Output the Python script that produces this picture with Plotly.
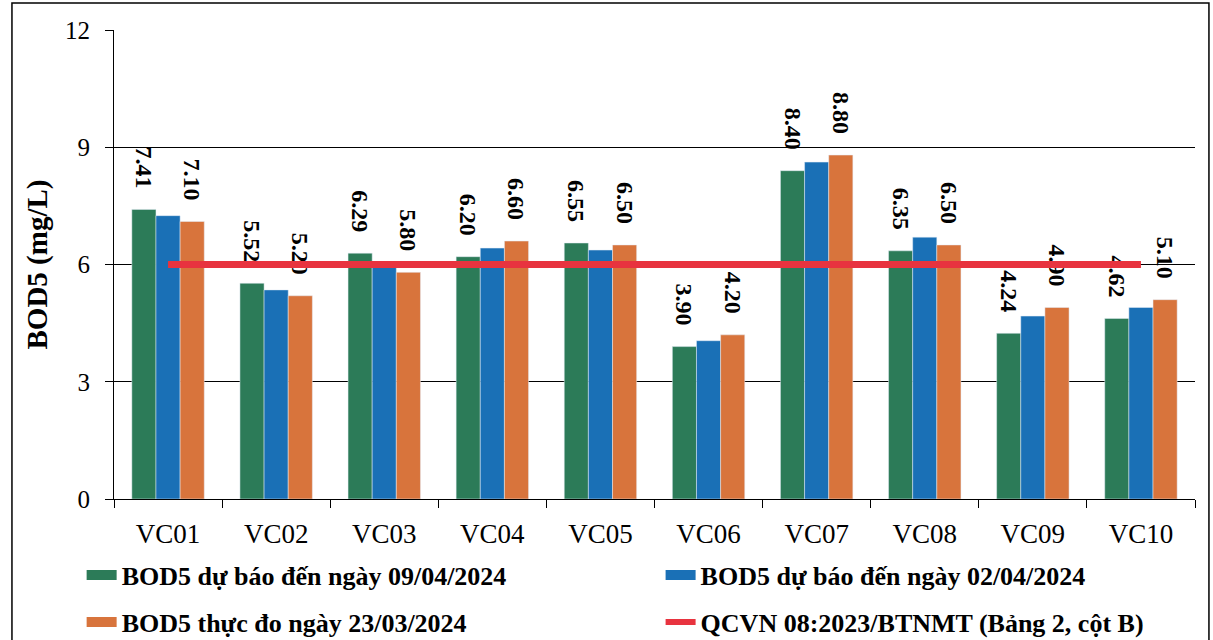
import plotly.graph_objects as go

categories = ["VC01", "VC02", "VC03", "VC04", "VC05", "VC06", "VC07", "VC08", "VC09", "VC10"]
bod_0904 = [7.41, 5.52, 6.29, 6.20, 6.55, 3.90, 8.40, 6.35, 4.24, 4.62]
bod_0204 = [7.25, 5.35, 5.95, 6.42, 6.37, 4.05, 8.62, 6.70, 4.68, 4.90]
bod_2303 = [7.10, 5.20, 5.80, 6.60, 6.50, 4.20, 8.80, 6.50, 4.90, 5.10]
qcvn_limit = [6.0] * len(categories)
y_ticks = [0, 3, 6, 9, 12]

names = [
    "BOD5 dự báo đến ngày 09/04/2024",
    "BOD5 dự báo đến ngày 02/04/2024",
    "BOD5 thực đo ngày 23/03/2024",
    "QCVN 08:2023/BTNMT (Bảng 2, cột B)",
]
GREEN = "#2c7b58"
BLUE = "#1a70b6"
ORANGE = "#d8743c"
RED = "#e8333f"
FONT = "Liberation Serif"

pad = "\u00a0" * 3
label_font = dict(family=FONT, size=24, color="black", weight="bold")

fig = go.Figure()
fig.add_trace(go.Bar(x=categories, y=bod_0904, marker_color=GREEN, showlegend=False,
                     text=[f"{v:.2f}{pad}" for v in bod_0904], textposition="outside",
                     textangle=90, textfont=label_font, cliponaxis=False, constraintext="none"))
fig.add_trace(go.Bar(x=categories, y=bod_0204, marker_color=BLUE, showlegend=False))
fig.add_trace(go.Bar(x=categories, y=bod_2303, marker_color=ORANGE, showlegend=False,
                     text=[f"{v:.2f}{pad}" for v in bod_2303], textposition="outside",
                     textangle=90, textfont=label_font, cliponaxis=False, constraintext="none"))
fig.add_trace(go.Scatter(x=categories, y=qcvn_limit, mode="lines",
                         line=dict(color=RED, width=7), showlegend=False))

# legend proxies (wide swatches like the original), one legend box per entry (2 x 2 grid)
legend_ids = ["legend", "legend2", "legend3", "legend4"]
for nm, col, w, lid in zip(names, [GREEN, BLUE, ORANGE, RED], [14, 14, 14, 6], legend_ids):
    fig.add_trace(go.Scatter(x=[None], y=[None], mode="lines", name=nm,
                             line=dict(color=col, width=w), legend=lid))

leg_common = dict(orientation="h", xref="container", yref="container",
                  xanchor="left", yanchor="middle",
                  font=dict(family=FONT, size=26, color="black", weight="bold"),
                  itemwidth=30, bgcolor="rgba(0,0,0,0)", borderwidth=0)
col_x = [0.0673, 0.5446]
row_y = [1 - 575 / 640, 1 - 622 / 640]

fig.update_layout(
    width=1213, height=640,
    margin=dict(l=114, r=18, t=30, b=141, autoexpand=False),
    paper_bgcolor="white", plot_bgcolor="white",
    barmode="group", bargap=0.33, bargroupgap=0,
    font=dict(family=FONT, color="black"),
    legend=dict(leg_common, x=col_x[0], y=row_y[0]),
    legend2=dict(leg_common, x=col_x[1], y=row_y[0]),
    legend3=dict(leg_common, x=col_x[0], y=row_y[1]),
    legend4=dict(leg_common, x=col_x[1], y=row_y[1]),
    shapes=[dict(type="rect", xref="paper", yref="paper",
                 x0=-0.0944, x1=1.0129, y0=-0.32, y1=1.0576,
                 line=dict(color="black", width=1.5), layer="below")],
)
fig.update_xaxes(
    type="category", showline=True, linecolor="black", linewidth=1.2,
    ticks="outside", tickson="boundaries", ticklen=8, tickcolor="black",
    tickfont=dict(family=FONT, size=27, color="black"), ticklabelstandoff=10,
    showgrid=False,
)
fig.update_yaxes(
    range=[0, 12], tickvals=y_ticks, showline=True, linecolor="black", linewidth=1.2,
    ticks="outside", ticklen=8, tickcolor="black",
    showgrid=True, gridcolor="black", gridwidth=1.2, zeroline=False,
    tickfont=dict(family=FONT, size=25, color="black"), ticklabelstandoff=10,
    title=dict(text="<b>BOD5 (mg/L)</b>", font=dict(family=FONT, size=29, color="black"), standoff=8),
)

fig.write_html("out.html", config={"displayModeBar": False},
               post_script="document.body.style.margin='0';")
